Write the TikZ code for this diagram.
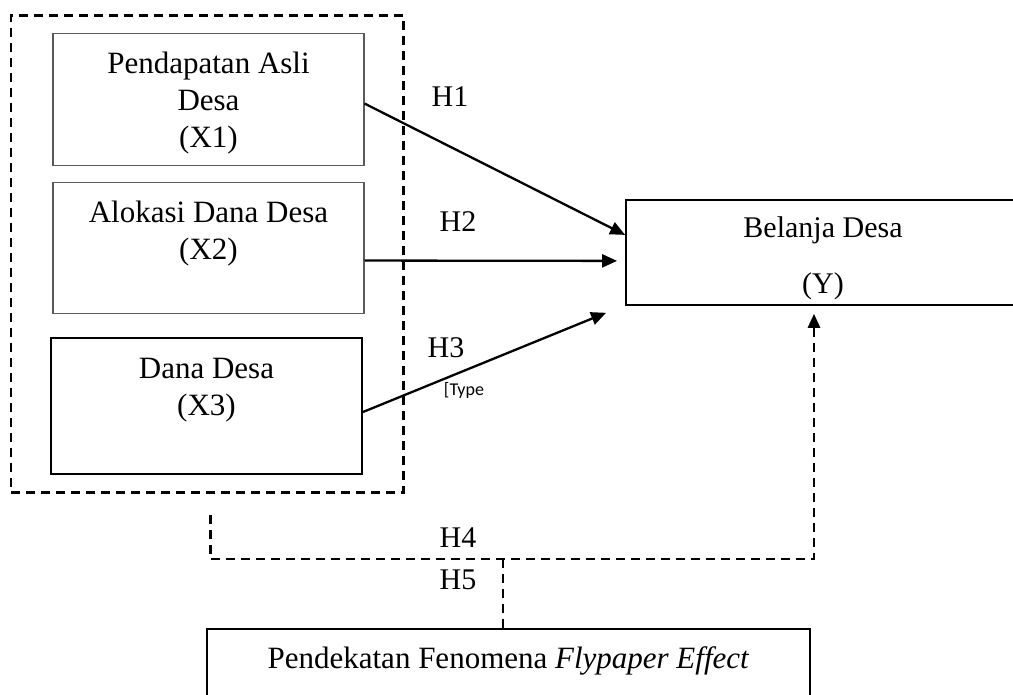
\documentclass[tikz,border=0pt]{standalone}
\usepackage{fontspec}
\setmainfont{Liberation Serif}
\newfontfamily\typefont{Carlito}
\usetikzlibrary{arrows.meta,fit}

\begin{document}
\begin{tikzpicture}[x=1pt,y=-1pt,
  kotak/.style={rectangle, draw=black!65, line width=1.1pt, inner sep=0pt, align=center,
    font=\fontsize{31}{37}\selectfont},
  tebal/.style={draw=black, line width=2pt},
  panah/.style={-{Triangle[length=15pt,width=13pt]}, line width=2.3pt},
  putus/.style={dash pattern=on 9pt off 6pt, line width=2.6pt},
  hipo/.style={font=\fontsize{30}{36}\selectfont, inner sep=0pt}]

\useasboundingbox (0,0) rectangle (1013,695);
\clip (0,0) rectangle (1013,695);

% variabel independen
\node[kotak, anchor=north, minimum width=311pt, text height=114pt, text depth=18pt] (x1) at (208.5,33)
  {Pendapatan Asli\\Desa\\(X1)};
\node[kotak, anchor=north, minimum width=311pt, text height=77pt, text depth=54pt] (x2) at (208.5,182)
  {Alokasi Dana Desa\\(X2)};
\node[kotak, tebal, anchor=north, minimum width=311pt, text height=77pt, text depth=59pt] (x3) at (206.5,337)
  {Dana Desa\\(X3)};
\node[draw, putus, fit=(x1)(x2)(x3), inner xsep=39pt, inner ysep=17.5pt] (g) {};

% variabel dependen dan pendekatan
\node[kotak, tebal, line width=1.8pt, anchor=north, minimum width=394pt, text height=94pt,
  text depth=11pt, font=\fontsize{30}{36}\selectfont] (y) at (823,199)
  {Belanja Desa\\[20pt](Y)};
\node[kotak, tebal, line width=2.2pt, anchor=north, minimum width=603pt, text height=39pt,
  text depth=80pt] (fp) at (508.5,628)
  {Pendekatan Fenomena \textit{Flypaper Effect}};

% hipotesis
\draw[panah] ([yshift=-4pt]x1.east) -- ([yshift=17.5pt]y.west);
\draw[panah] ([yshift=-12.5pt]x2.east) -- ([xshift=-8pt,yshift=-8.5pt]y.west);
\draw[panah] ([yshift=-6pt]x3.east) -- ([xshift=-19pt,yshift=-7pt]y.south west);

\coordinate (h4a) at ([xshift=3pt,yshift=-21pt]g.south);
\coordinate (h4b) at ([yshift=-44pt]h4a);
\coordinate (h5a) at ([xshift=-5.5pt]fp.north);
\draw[putus, -{Triangle[length=14pt,width=12pt]}] (h4a) -- (h4b) -| ([xshift=-9pt,yshift=-8pt]y.south);
\draw[putus] (h5a) -- (h5a |- h4b);

\node[hipo] (h1) at (450,97) {H1};
\node[hipo] (h2) at (458,222) {H2};
\node[hipo] (h3) at (446,348) {H3};
\node[hipo] (h4) at (458,538) {H4};
\node[hipo] (h5) at (458,580) {H5};
\node[font=\typefont\fontsize{18}{20}\selectfont, inner sep=0pt] (tp) at (464,390) {[Type};

\end{tikzpicture}
\end{document}
